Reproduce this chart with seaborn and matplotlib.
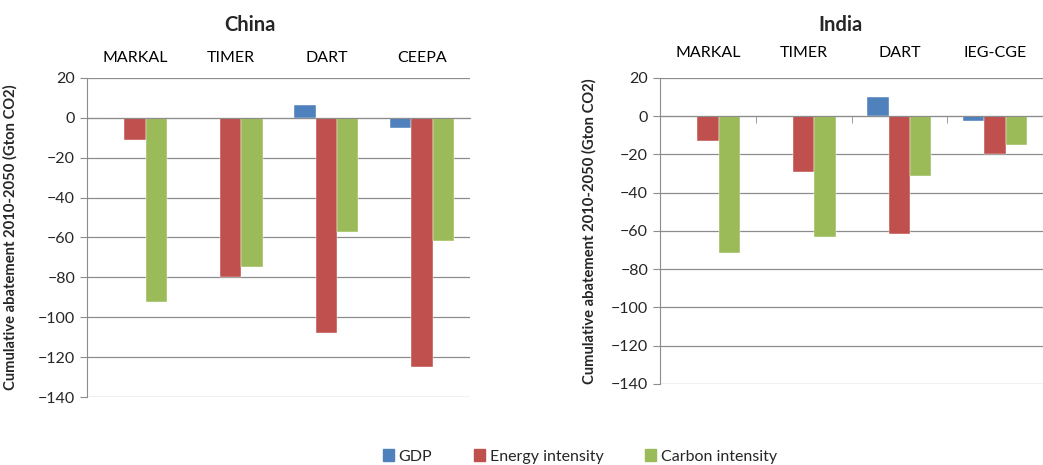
import numpy as np
import pandas as pd
import seaborn as sns
import matplotlib.pyplot as plt
from matplotlib.ticker import MultipleLocator, FixedLocator

# data
drivers = ["GDP", "Energy intensity", "Carbon intensity"]
china_models = ["MARKAL", "TIMER", "DART", "CEEPA"]
china_gdp = [0, 0, 6.6, -5.1]
china_energy = [-10.9, -80, -108, -125]
china_carbon = [-92.4, -75, -57.2, -62]
india_models = ["MARKAL", "TIMER", "DART", "IEG-CGE"]
india_gdp = [0, 0, 10, -2.4]
india_energy = [-13.2, -29, -61.7, -20]
india_carbon = [-71.5, -63, -31.1, -15.1]
colors = ["#4F81BD", "#C0504D", "#9BBB59"]

sns.set_style("white")
plt.rcParams["font.family"] = ["Lato", "DejaVu Sans"]


def long_df(models, gdp, energy, carbon):
    rows = []
    for d, vals in zip(drivers, [gdp, energy, carbon]):
        for m, v in zip(models, vals):
            rows.append({"model": m, "driver": d, "value": v})
    return pd.DataFrame(rows)


fig = plt.figure(figsize=(10.43, 4.65), dpi=100)
ax_c = fig.add_axes([0.0834, 0.1462, 0.3672, 0.6861])
ax_i = fig.add_axes([0.6328, 0.1742, 0.3672, 0.6581])

grid_col = "#8c8c8c"
setups = [
    (ax_c, china_models, china_gdp, china_energy, china_carbon, -0.18, 9, False),
    (ax_i, india_models, india_gdp, india_energy, india_carbon, -0.165, 13, True),
]
for ax, models, g, e, c, ylab_x, pad, zero_ticks in setups:
    df = long_df(models, g, e, c)
    sns.barplot(data=df, x="model", y="value", hue="driver", hue_order=drivers,
                palette=colors, saturation=1, width=0.667, gap=0, ax=ax,
                legend=False, edgecolor="white", linewidth=0.3)
    ax.set_ylim(-140, 20)
    ax.set_xlim(-0.5, 3.5)
    ax.yaxis.set_major_locator(MultipleLocator(20))
    ax.grid(axis="y", color=grid_col, linewidth=0.9)
    ax.set_axisbelow(True)
    for s in ["top", "right"]:
        ax.spines[s].set_visible(False)
    ax.spines["left"].set_color(grid_col)
    ax.spines["bottom"].set_position(("data", 0))
    ax.spines["bottom"].set_color(grid_col)
    ax.xaxis.tick_top()
    ax.tick_params(axis="x", which="major", length=0, labelsize=11.5,
                   pad=pad, top=False, bottom=False, labeltop=True,
                   labelbottom=False, colors="black")
    if zero_ticks:
        ax.xaxis.set_minor_locator(FixedLocator([0.5, 1.5, 2.5]))
        ax.tick_params(axis="x", which="minor", bottom=True, top=False,
                       length=5, direction="out", color=grid_col)
    ax.tick_params(axis="y", left=True, length=5, color=grid_col,
                   labelsize=11.5)
    ax.set_xlabel("")
    ax.set_ylabel("Cumulative abatement 2010-2050 (Gton CO2)",
                  fontsize=10.6, fontweight="bold")
    ax.yaxis.set_label_coords(ylab_x, 0.5)

fig.text(250 / 1043, 1 - 25 / 465, "China", ha="center", va="center",
         fontsize=14.5, fontweight="bold")
fig.text(840 / 1043, 1 - 25 / 465, "India", ha="center", va="center",
         fontsize=14.5, fontweight="bold")

handles = [plt.Rectangle((0, 0), 1, 1, color=col) for col in colors]
fig.legend(handles, drivers, loc="lower center", bbox_to_anchor=(0.556, -0.028),
           ncol=3, frameon=False, fontsize=11.5, handlelength=0.7,
           handleheight=0.7, handletextpad=0.3, columnspacing=2.6)

fig.savefig("out.png", dpi=100)
